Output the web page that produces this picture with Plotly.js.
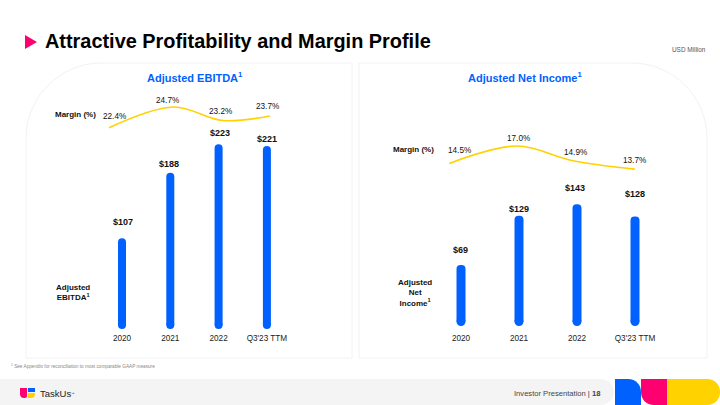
<!DOCTYPE html>
<html><head><meta charset="utf-8">
<script src="https://cdn.plot.ly/plotly-3.0.1.min.js"></script>
<style>html,body{margin:0;padding:0;background:#fff}#c{width:720px;height:405px}</style>
</head><body><div id="c"></div>
<script>
const categories = ["2020","2021","2022","Q3'23 TTM"];
const ebitda = [107,188,223,221];
const netIncome = [69,129,143,128];
const ebitdaMargin = [22.4,24.7,23.2,23.7];
const netIncomeMargin = [14.5,17.0,14.9,13.7];
const ebitdaLinePos = [0,1.2,2.12,3];
const netLinePos = [0,1.1,2.0,3];

const W=720,H=405,BLUE='#0061ff',YEL='#ffd200',PINK='#ff0070',INK='#111';
const FONT='"Liberation Sans", Arial, sans-serif';
const px=p=>1-p/H;
// axis range so that the value v0 falls at pixel p0 with s px per unit, on a full-height axis
const yr=(v0,p0,s)=>[v0-(H-p0)/s, v0+p0/s];
const catAxis=(c0,step,tickY)=>({type:'category',categoryorder:'array',categoryarray:categories,
  domain:[(c0-.5*step)/W,(c0+3.5*step)/W],range:[-.5,3.5],anchor:'free',position:px(tickY),
  showgrid:false,zeroline:false,showline:false,ticks:'',tickfont:{family:FONT,size:8.2,color:'#222'}});
const hiddenY=(r,xa)=>({range:r,domain:[0,1],anchor:xa,visible:false,fixedrange:true});
const lineAxis=(c0,step)=>({domain:[c0/W,(c0+3*step)/W],range:[-.02,3.02],anchor:'free',position:0,visible:false});

const barTrace=(y,xa,ya,w)=>({type:'bar',x:categories,y:y,xaxis:xa,yaxis:ya,width:w,
  marker:{color:BLUE,cornerradius:4,line:{width:0}},hoverinfo:'skip'});
const capTrace=(xa,ya,size)=>({type:'scatter',mode:'markers',x:categories,y:categories.map(()=>0),xaxis:xa,yaxis:ya,
  marker:{color:BLUE,size:size,line:{width:0}},hoverinfo:'skip'});
const lineTrace=(x,y,xa,ya)=>({type:'scatter',mode:'lines',x:x,y:y,xaxis:xa,yaxis:ya,
  line:{color:YEL,width:1.6,shape:'spline',smoothing:1},hoverinfo:'skip'});

const data=[
  barTrace(ebitda,'x','y',.166),capTrace('x','y',8),
  barTrace(netIncome,'x2','y2',.155),capTrace('x2','y2',9),
  lineTrace(ebitdaLinePos,ebitdaMargin,'x3','y3'),
  lineTrace(netLinePos,netIncomeMargin,'x4','y4')
];

const T=(text,x,y,size,opt={})=>({text,x:x/W,y:px(y),xref:'paper',yref:'paper',xanchor:opt.a||'center',yanchor:'middle',
  showarrow:false,align:opt.a||'center',font:{family:FONT,size,color:opt.c||INK,weight:opt.w||400}});

const annotations=[
  T('Adjusted EBITDA<sup>1</sup>',195,77,11,{c:BLUE,w:700}),
  T('Adjusted Net Income<sup>1</sup>',525,77,11,{c:BLUE,w:700}),
  T('USD Million',707.5,49,6.4,{a:'right',c:'#555'}),
  T('Margin (%)',75,115,8,{w:700}),
  T('Margin (%)',413,149,8,{w:700}),
  T('Adjusted<br>EBITDA<sup>1</sup>',73,292,8,{w:700}),
  T('Adjusted<br>Net<br>Income<sup>1</sup>',415,293,8,{w:700}),
  T('<sup>1</sup> See Appendix for reconciliation to most comparable GAAP measure',8.5,366,4.7,{a:'left',c:'#888'}),
  T('TaskUs<span style="font-size:5px"><sup>™</sup></span>',37.5,393,9.5,{a:'left',c:'#222'}),
  T('Investor Presentation | <b>18</b>',602,393,7.6,{a:'right',c:'#444'})
];
[[123,221.7],[168.5,163.7],[219.5,132.7],[267,139]].forEach((p,i)=>annotations.push(T('$'+ebitda[i],p[0],p[1],9,{w:700})));
[[461,250],[519,209],[575,188],[635,194]].forEach((p,i)=>annotations.push(T('$'+netIncome[i],p[0],p[1],9,{w:700})));
[[114,116],[167,101],[220,111],[267,106]].forEach((p,i)=>annotations.push(T(ebitdaMargin[i].toFixed(1)+'%',p[0],p[1],8.2)));
[[460,150],[518,138],[575,152],[634,160]].forEach((p,i)=>annotations.push(T(netIncomeMargin[i].toFixed(1)+'%',p[0],p[1],8.2)));

const S=(path,fill,line)=>({type:'path',path,xref:'paper',yref:'paper',fillcolor:fill,line:{width:line?1:0,color:line||fill},layer:'below'});
const pth=(s)=>s.replace(/(-?[\d.]+),(-?[\d.]+)/g,(m,a,b)=>(+a/W)+','+px(+b));
const shapes=[
  S(pth('M 26,358 L 26,138 C 26,97 60,63 101,63 L 352,63 L 352,358 Z'),'rgba(0,0,0,0)','#f2f2f2'),
  S(pth('M 359,358 L 359,63 L 632,63 C 673,63 707,97 707,138 L 707,358 Z'),'rgba(0,0,0,0)','#f2f2f2'),
  S(pth('M 25,35 L 37,42 L 25,49 Z'),PINK),
  S(pth('M 0,379 L 600,379 C 608,379 614,385 614,392 C 614,399 608,405 600,405 L 0,405 Z'),'#f4f4f4'),
  S(pth('M 615,379 L 628,379 C 636,379 641,385 641,392 L 641,405 L 615,405 Z'),BLUE),
  S(pth('M 641,379 L 667,379 L 667,405 L 654,405 C 646,405 641,399 641,392 Z'),PINK),
  S(pth('M 667,379 L 707,379 C 715,379 720,385 720,392 C 720,399 715,405 707,405 L 667,405 Z'),YEL),
  S(pth('M 20,388 L 27,388 L 27,396 C 27,398 25,398 24,398 C 21,398 20,396 20,394 Z'),PINK),
  S(pth('M 28,388 L 35,388 L 35,392 L 28,392 Z'),BLUE),
  S(pth('M 28,393 L 35,393 L 35,394 C 35,397 33,398 31,398 L 28,398 Z'),YEL)
];

const layout={width:W,height:H,margin:{l:0,r:0,t:0,b:0},paper_bgcolor:'#fff',plot_bgcolor:'rgba(0,0,0,0)',showlegend:false,
  barmode:'overlay',
  title:{text:'Attractive Profitability and Margin Profile',x:45/W,xanchor:'left',y:px(41),yanchor:'middle',
    font:{family:FONT,size:19.9,color:'#000',weight:700}},
  xaxis:catAxis(122,48.3,332),
  xaxis2:catAxis(461,58,332),
  xaxis3:lineAxis(108,54.33),
  xaxis4:lineAxis(448,62.67),
  yaxis:hiddenY(yr(0,325,.81),'x'),
  yaxis2:hiddenY(yr(0,321.5,.82),'x2'),
  yaxis3:hiddenY(yr(24.7,107,9),'x3'),
  yaxis4:hiddenY(yr(17,146,7),'x4'),
  annotations,shapes};
Plotly.newPlot('c',data,layout,{displayModeBar:false,staticPlot:true});
</script></body></html>
